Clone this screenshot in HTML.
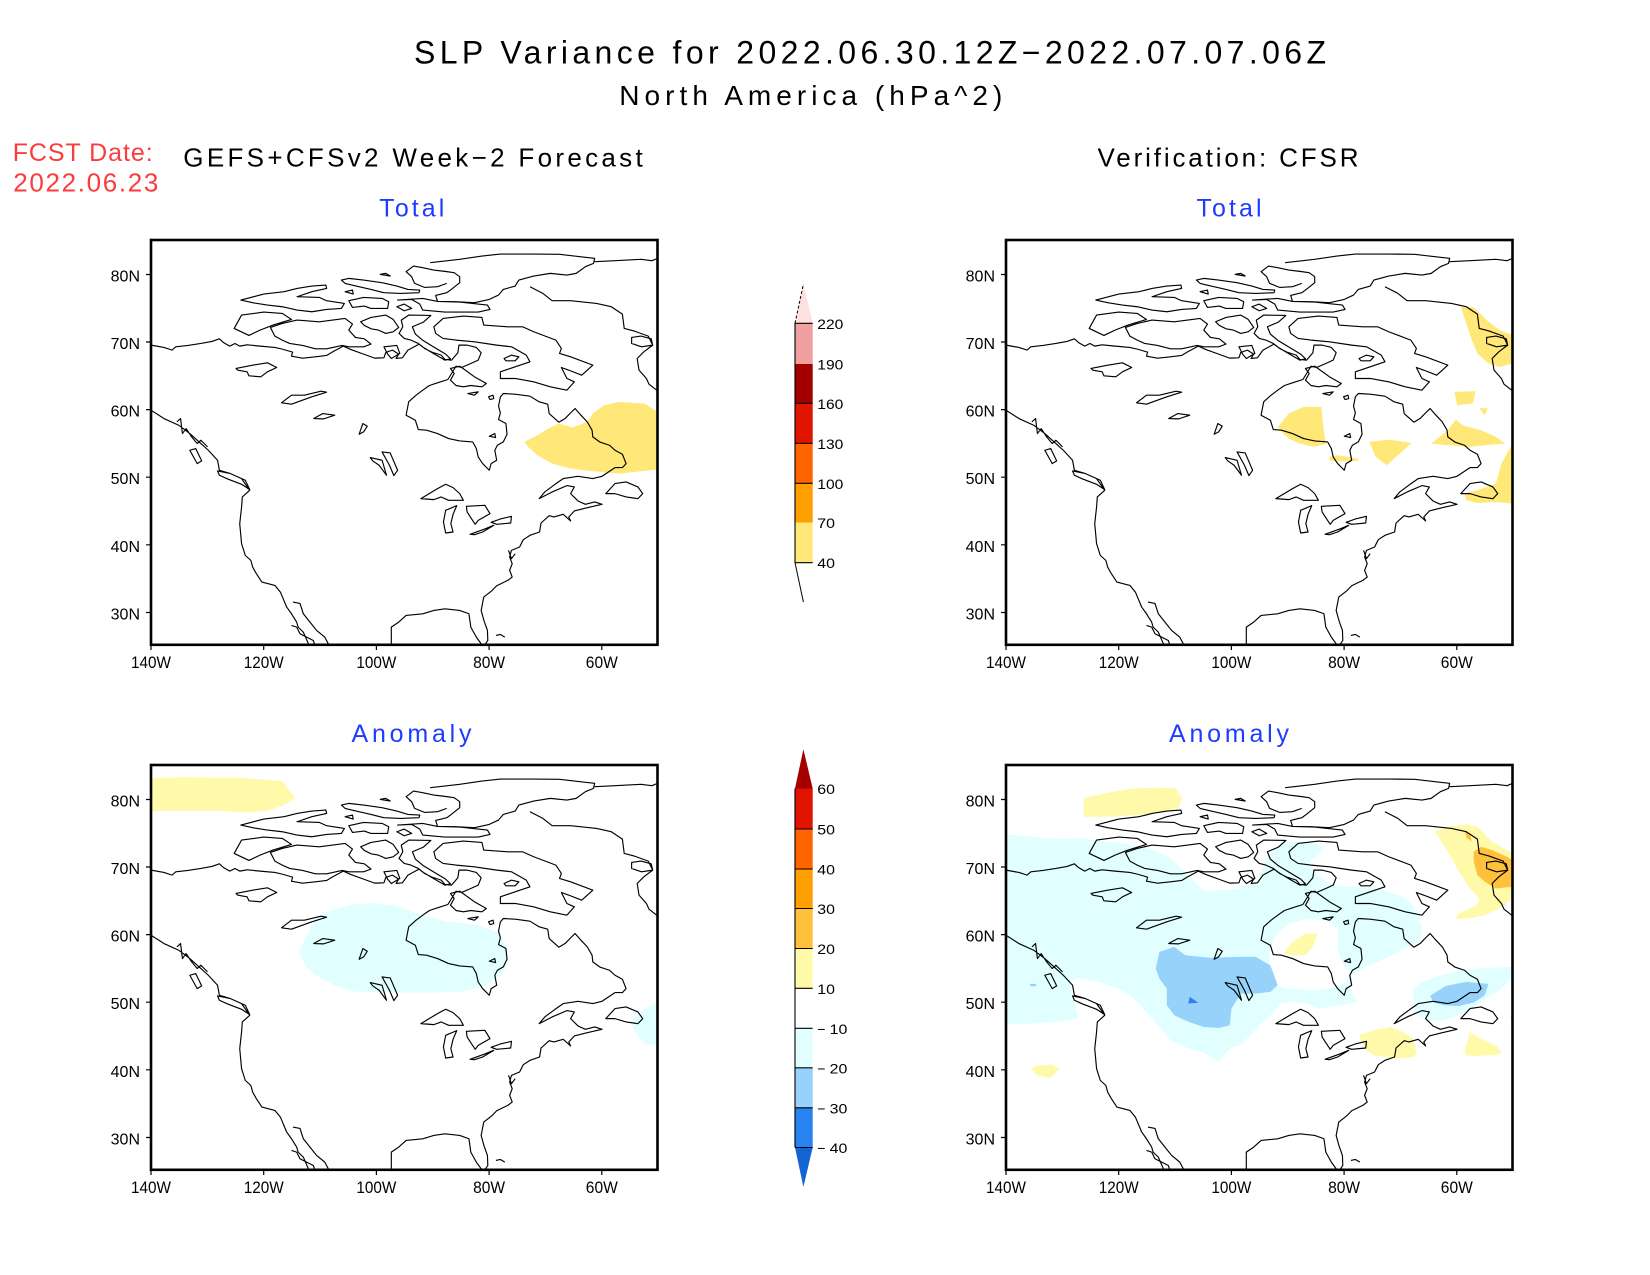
<!DOCTYPE html>
<html><head><meta charset="utf-8"><style>
html,body{margin:0;padding:0;background:#fff;}
svg{display:block;}
text{font-family:"Liberation Sans",sans-serif;}
</style></head><body>
<svg width="1650" height="1275" viewBox="0 0 1650 1275" xmlns="http://www.w3.org/2000/svg">
<rect width="1650" height="1275" fill="#fff"/>
<defs>
<clipPath id="cp"><rect x="165" y="30" width="1370" height="1213"/></clipPath>
</defs>

<!-- Titles -->
<text x="414" y="63.3" font-size="32" textLength="912" lengthAdjust="spacing">SLP Variance for 2022.06.30.12Z−2022.07.07.06Z</text>
<text x="619.3" y="105" font-size="28" textLength="383" lengthAdjust="spacing">North America (hPa^2)</text>
<text x="12.7" y="161" font-size="25" fill="#FA3C3C" textLength="140" lengthAdjust="spacing">FCST Date:</text>
<text x="13.3" y="191.7" font-size="26" fill="#FA3C3C" textLength="145" lengthAdjust="spacing">2022.06.23</text>
<text x="183.3" y="166.7" font-size="26" textLength="459.4" lengthAdjust="spacing">GEFS+CFSv2 Week−2 Forecast</text>
<text x="1097.5" y="166.7" font-size="26" textLength="261" lengthAdjust="spacing">Verification: CFSR</text>
<text x="379.3" y="216.7" font-size="25" fill="#1E3CFF" textLength="65" lengthAdjust="spacing">Total</text>
<text x="1196.5" y="216.7" font-size="25" fill="#1E3CFF" textLength="65" lengthAdjust="spacing">Total</text>
<text x="351.5" y="742" font-size="25" fill="#1E3CFF" textLength="120" lengthAdjust="spacing">Anomaly</text>
<text x="1169" y="742" font-size="25" fill="#1E3CFF" textLength="120" lengthAdjust="spacing">Anomaly</text>

<!-- ============ PANEL TL ============ -->
<g transform="translate(151,240) scale(0.36971,0.33372) translate(-165,-30)">
<g clip-path="url(#cp)">
<path fill="#FFE878" d="M1175,635 L1210,615 L1240,595 L1268,580 L1305,592 L1345,575 L1360,550 L1390,525 L1430,515 L1500,520 L1535,545 L1535,718 L1500,722 L1430,730 L1350,722 L1300,715 L1250,700 L1210,675 L1185,650 Z"/>
<path class="coast" fill="none" stroke="#000" stroke-width="1.15" vector-effect="non-scaling-stroke" stroke-linejoin="round" d="M165,345 L200,352 L222,360 L232,350 L265,346 L300,340 L330,334 L350,326 L362,338 L378,348 L392,340 L405,348 L425,344 L460,348 L500,352 L520,357 L548,366 L545,378 L575,384 L610,380 L640,376 L655,366 L685,348 L705,358 L740,372 L770,384 L795,383 L800,367 L818,360 L835,372 L828,385 L845,383 L860,360 L890,342 L905,355 L925,366 L950,375 L960,388 L978,390 L995,368 L998,345 L1020,345 L1045,352 L1058,368 L1050,390 L1030,400 L1005,412 L990,408 L978,430 L968,448 L940,458 L918,466 L900,480 L882,495 L862,515 L855,555 L880,570 L888,598 L910,600 L940,610 L970,625 L1000,632 L1035,635 L1045,655 L1050,680 L1062,700 L1080,720 L1085,700 L1100,690 L1095,660 L1102,645 L1118,635 L1128,612 L1125,580 L1105,568 L1110,548 L1105,528 L1110,500 L1118,490 L1150,492 L1190,498 L1215,515 L1238,522 L1242,550 L1268,576 L1285,565 L1300,548 L1312,535 L1328,555 L1345,575 L1358,600 L1360,620 L1380,636 L1405,645 L1420,660 L1440,672 L1450,700 L1440,712 L1420,712 L1385,738 L1360,745 L1320,738 L1280,745 L1258,762 L1230,785 L1215,805 L1250,785 L1290,766 L1310,770 L1300,790 L1320,812 L1340,822 L1365,815 L1385,822 L1345,832 L1310,842 L1295,860 L1300,872 L1280,852 L1255,860 L1242,856 L1220,878 L1216,905 L1190,915 L1172,928 L1162,950 L1140,960 L1135,980 L1142,1000 L1135,1020 L1142,1040 L1130,1050 L1100,1066 L1088,1080 L1065,1100 L1058,1140 L1066,1172 L1075,1200 L1076,1230 L1068,1243
M815,1243 L815,1190 L835,1175 L855,1155 L900,1150 L930,1140 L960,1135 L1000,1140 L1025,1150 L1030,1190 L1045,1220 L1060,1243
M165,540 L200,565 L240,585 L270,610 L300,640 L320,660 L345,690 L350,720 L380,730 L410,745 L432,780 L412,800 L410,830 L405,880 L410,940 L420,975 L435,990 L440,1010 L450,1030 L465,1055 L500,1065 L515,1085 L532,1130 L545,1150 L559,1175 L563,1190 L577,1205 L592,1243
M549,1115 L568,1119 L577,1150 L595,1175 L613,1200 L635,1220 L646,1243
M545,1185 L559,1190 L568,1210 L604,1230 L608,1243
M920,98 L1000,88 L1060,78 L1110,72 L1200,72 L1270,73 L1340,82 L1365,85 L1362,100 L1340,110 L1315,130 L1290,135 L1245,130 L1200,138 L1160,150 L1150,168 L1118,178 L1105,195 L1080,208 L1040,218 L990,215 L940,214 L935,196 L965,188 L975,180 L1000,158 L1000,140 L985,128 L960,124 L930,120 L900,113 L875,108 L855,125 L870,140 L878,160 L905,172 L940,170 L965,160
M1365,95 L1420,92 L1490,88 L1520,92 L1535,85
M1190,170 L1225,190 L1250,212 L1300,212 L1370,220 L1410,230 L1440,252 L1445,295 L1470,302 L1510,318 L1522,345 L1498,365 L1480,385 L1485,420 L1505,445 L1512,462 L1535,482
M1465,322 L1490,318 L1518,326 L1522,345 L1492,350 L1465,340 Z
M680,150 L700,145 L740,150 L790,158 L830,168 L860,178 L892,180 L890,188 L840,190 L795,188 L760,178 L720,168 L690,160 Z
M408,210 L470,192 L525,185 L560,175 L600,168 L638,165 L640,175 L600,185 L560,200 L620,202 L640,212 L688,220 L680,235 L640,238 L600,245 L560,240 L520,230 L480,225 L440,218 Z
M700,212 L740,202 L790,205 L808,215 L805,235 L760,235 L742,228 L710,232 Z
M690,185 L710,180 L712,192 Z
M832,210 L870,208 L892,222 L900,240 L960,246 L1050,246 L1082,238 L1075,225 L1000,216 L940,214 L900,205 Z
M830,230 L850,222 L870,235 L850,242 Z
M785,133 L800,130 L812,138 Z
M390,295 L410,255 L470,246 L520,250 L545,268 L495,285 L460,300 L430,316 Z
M488,292 L520,280 L560,270 L620,275 L690,265 L710,282 L700,300 L718,322 L742,326 L760,342 L740,350 L700,350 L682,346 L640,356 L610,356 L575,346 L540,340 L520,330 L500,318 Z
M732,275 L760,262 L800,255 L820,268 L835,292 L820,305 L800,310 L780,300 L760,296 L742,286 Z
M842,270 L862,255 L922,256 L902,276 L872,290 L880,312 L902,332 L932,352 L962,372 L975,386 L960,390 L932,372 L902,352 L888,340 L868,330 L850,325 L836,310 L846,290 Z
M930,290 L955,265 L1010,258 L1060,262 L1065,285 L1130,290 L1170,290 L1200,305 L1260,330 L1275,355 L1270,370 L1300,380 L1360,405 L1330,435 L1295,420 L1275,412 L1290,445 L1310,455 L1290,480 L1245,470 L1200,455 L1150,445 L1110,445 L1110,425 L1150,410 L1190,395 L1180,375 L1140,350 L1100,345 L1040,335 L990,330 L955,325 L935,310 Z
M795,350 L830,346 L838,370 L815,385 L805,372 Z
M975,415 L1000,408 L1040,440 L1072,460 L1060,470 L1030,466 L1010,470 L990,466 L975,450 L985,430 Z
M1120,385 L1140,375 L1160,380 L1150,392 L1125,392 Z
M1022,490 L1050,485 L1040,495 Z M1078,500 L1090,495 L1092,505 L1082,508 Z M1080,618 L1095,610 L1097,622 Z
M395,415 L440,405 L480,398 L505,412 L480,425 L462,440 L430,437 L425,425 L400,420 Z
M518,518 L545,495 L580,495 L625,483 L640,486 L600,500 L570,512 L545,522 Z
M605,565 L630,550 L662,555 L632,566 Z
M728,612 L738,580 L750,588 L740,605 Z
M758,682 L790,690 L802,735 L782,705 L765,692 Z
M790,665 L812,668 L832,720 L822,736 L810,705 Z
M895,805 L940,775 L962,762 L982,772 L1000,790 L1010,810 L970,810 L950,800 L930,808 Z
M962,840 L992,826 L982,852 L976,880 L982,905 L962,908 L956,875 L960,852 Z
M1018,828 L1068,825 L1082,850 L1050,870 L1042,882 L1030,862 L1020,845 Z
M1028,912 L1070,895 L1092,885 L1062,905 L1040,913 Z
M1085,876 L1110,866 L1140,858 L1138,878 L1100,882 Z
M1395,790 L1420,760 L1450,755 L1482,770 L1495,790 L1482,805 L1450,800 L1420,790 Z
M345,722 L380,730 L420,750 L432,778 L410,762 L372,746 L350,735 Z
M270,660 L286,655 L302,692 L290,700 Z
M235,575 L245,565 L250,610 L260,595 L275,620 L290,640 L300,630 L318,650
M1098,1215 L1110,1212 L1122,1220
M1132,960 L1140,985 L1150,970"/>
</g>
</g>

<!-- ============ PANEL TR ============ -->
<g transform="translate(1006,240) scale(0.36971,0.33372) translate(-165,-30)">
<g clip-path="url(#cp)" fill="#FFE878">
<path d="M1395,230 L1430,232 L1470,275 L1500,300 L1535,315 L1535,400 L1500,410 L1470,400 L1440,370 L1425,330 L1410,280 Z"/>
<path d="M1378,485 L1435,483 L1428,520 L1385,525 Z"/>
<path d="M1445,533 L1468,535 L1460,555 Z"/>
<path d="M1315,640 L1360,600 L1382,568 L1400,585 L1450,600 L1490,620 L1515,640 L1460,645 L1420,650 L1360,645 Z"/>
<path d="M900,590 L930,550 L970,530 L1018,530 L1022,580 L1030,640 L1000,650 L960,640 L930,625 L910,605 Z"/>
<path d="M1148,635 L1200,628 L1262,638 L1230,670 L1195,705 L1165,680 Z"/>
<path d="M1040,680 L1060,675 L1090,680 L1118,685 L1118,692 L1060,693 L1040,690 Z"/>
<path d="M1405,790 L1440,780 L1490,760 L1505,700 L1530,650 L1535,650 L1535,820 L1490,815 L1440,818 L1410,810 Z"/>
</g>
</g>

<!-- ============ PANEL BL ============ -->
<g transform="translate(151,765) scale(0.36971,0.33372) translate(-165,-30)">
<g clip-path="url(#cp)">
<path fill="#FFFAAA" d="M165,70 L240,67 L400,68 L520,78 L555,130 L520,152 L480,168 L420,172 L360,168 L280,168 L165,168 Z"/>
<path fill="#E1FFFF" d="M565,590 L600,510 L640,470 L700,450 L760,443 L820,450 L900,480 L960,498 L1050,510 L1110,535 L1128,580 L1125,640 L1100,670 L1060,695 L1000,710 L920,712 L820,712 L720,710 L660,690 L610,660 L585,635 Z"/>
<path fill="#E1FFFF" d="M1460,800 L1490,770 L1535,740 L1535,870 L1500,865 L1480,840 Z"/>
</g>
</g>

<!-- ============ PANEL BR ============ -->
<g transform="translate(1006,765) scale(0.36971,0.33372) translate(-165,-30)">
<g clip-path="url(#cp)">
<path fill="#E1FFFF" d="M165,238 L220,243 L300,252 L370,250 L420,258 L470,262 L530,275 L575,290 L610,310 L640,340 L665,370 L690,395 L705,410 L740,405 L790,400 L830,388 L850,370 L860,340 L870,310 L890,280 L920,262 L960,258 L1000,265 L1025,278 L1010,300 L985,318 L995,345 L1030,380 L1070,395 L1110,395 L1160,398 L1200,410 L1240,425 L1265,450 L1280,480 L1290,520 L1285,555 L1265,570 L1240,580 L1200,605 L1160,625 L1130,640 L1100,660 L1095,700 L1115,740 L1060,752 L1010,760 L980,745 L940,738 L905,745 L890,770 L860,800 L830,835 L800,868 L770,880 L740,920 L700,892 L660,880 L610,855 L585,820 L560,790 L530,750 L500,720 L470,700 L420,682 L360,668 L335,680 L345,720 L360,790 L300,800 L230,805 L165,808 Z"/>
<path fill="#FFFFFF" d="M878,590 L895,540 L930,505 L980,492 L1030,495 L1062,520 L1062,580 L1075,625 L1095,650 L1085,680 L1050,700 L990,705 L930,700 L890,690 L878,650 Z"/>
<path fill="#FFFAAA" d="M915,595 L935,565 L975,535 L1008,535 L995,575 L975,600 L945,600 Z"/>
<path fill="#96D2FA" d="M570,640 L580,590 L620,575 L650,600 L720,608 L790,605 L840,605 L880,630 L900,690 L880,710 L840,715 L800,715 L775,760 L770,810 L740,818 L700,815 L660,800 L620,780 L600,750 L600,700 L580,670 Z"/>
<path fill="#2882F0" d="M658,745 L662,725 L685,742 Z"/>
<rect x="230" y="686" width="16" height="7" fill="#96D2FA"/>
<path fill="#E1FFFF" d="M1265,705 L1290,680 L1340,660 L1400,645 L1460,638 L1535,635 L1535,668 L1505,700 L1470,725 L1440,748 L1400,775 L1350,795 L1300,798 L1272,775 Z"/>
<path fill="#96D2FA" d="M1312,722 L1355,692 L1410,680 L1470,686 L1460,720 L1430,742 L1390,752 L1350,750 L1322,742 Z"/>
<path fill="#FFFAAA" d="M375,130 L430,115 L510,100 L580,98 L625,100 L642,130 L630,162 L570,175 L520,180 L450,185 L375,185 Z"/>
<path fill="#FFFAAA" d="M1325,230 L1360,215 L1410,208 L1440,215 L1480,260 L1535,295 L1535,430 L1500,460 L1460,480 L1420,490 L1378,490 L1390,475 L1440,450 L1445,430 L1420,400 L1390,350 L1360,290 Z"/>
<path fill="#FFC03C" d="M1430,290 L1450,275 L1480,285 L1520,305 L1535,315 L1535,395 L1490,400 L1460,380 L1440,360 L1430,320 Z"/>
<path fill="#FFC03C" d="M1405,230 L1420,235 L1425,258 L1412,250 Z"/>
<path fill="#FFFAAA" d="M1120,840 L1160,825 L1205,815 L1240,830 L1265,850 L1275,890 L1270,905 L1220,910 L1160,900 L1135,880 Z"/>
<path fill="#FFFAAA" d="M1405,890 L1420,830 L1450,850 L1490,870 L1505,890 L1500,898 L1440,902 L1410,900 Z"/>
<path fill="#FFFAAA" d="M232,940 L250,930 L290,928 L310,940 L285,968 L250,960 Z"/>
<path fill="#FFFAAA" d="M1528,785 L1535,778 L1535,805 Z"/>
</g>
</g>

<!-- Frames, ticks, labels -->
<g fill="none" stroke="#000" stroke-width="2.6" id="frames">
<rect x="151" y="240" width="506.5" height="404.8"/>
<rect x="1006" y="240" width="506.5" height="404.8"/>
<rect x="151" y="765" width="506.5" height="404.8"/>
<rect x="1006" y="765" width="506.5" height="404.8"/>
</g>
<g stroke="#000" stroke-width="1.2">
<path d="M146,274.5H151M146,342H151M146,409.6H151M146,477.2H151M146,544.8H151M146,612.5H151"/>
<path d="M1001,274.5H1006M1001,342H1006M1001,409.6H1006M1001,477.2H1006M1001,544.8H1006M1001,612.5H1006"/>
<path d="M146,799.5H151M146,867H151M146,934.6H151M146,1002.2H151M146,1069.8H151M146,1137.5H151"/>
<path d="M1001,799.5H1006M1001,867H1006M1001,934.6H1006M1001,1002.2H1006M1001,1069.8H1006M1001,1137.5H1006"/>
<path d="M151,645V650M263.7,645V650M376.4,645V650M489.1,645V650M601.8,645V650"/>
<path d="M1006,645V650M1118.7,645V650M1231.4,645V650M1344.1,645V650M1456.8,645V650"/>
<path d="M151,1170V1175M263.7,1170V1175M376.4,1170V1175M489.1,1170V1175M601.8,1170V1175"/>
<path d="M1006,1170V1175M1118.7,1170V1175M1231.4,1170V1175M1344.1,1170V1175M1456.8,1170V1175"/>
</g>
<g font-size="16" text-anchor="end">
<text x="140" y="281.5">80N</text><text x="140" y="349">70N</text><text x="140" y="416.6">60N</text><text x="140" y="484.2">50N</text><text x="140" y="551.8">40N</text><text x="140" y="619.5">30N</text>
<text x="995" y="281.5">80N</text><text x="995" y="349">70N</text><text x="995" y="416.6">60N</text><text x="995" y="484.2">50N</text><text x="995" y="551.8">40N</text><text x="995" y="619.5">30N</text>
<text x="140" y="806.5">80N</text><text x="140" y="874">70N</text><text x="140" y="941.6">60N</text><text x="140" y="1009.2">50N</text><text x="140" y="1076.8">40N</text><text x="140" y="1144.5">30N</text>
<text x="995" y="806.5">80N</text><text x="995" y="874">70N</text><text x="995" y="941.6">60N</text><text x="995" y="1009.2">50N</text><text x="995" y="1076.8">40N</text><text x="995" y="1144.5">30N</text>
</g>
<g font-size="17">
<text x="131" y="668" textLength="40" lengthAdjust="spacingAndGlyphs">140W</text><text x="243.7" y="668" textLength="40" lengthAdjust="spacingAndGlyphs">120W</text><text x="356.4" y="668" textLength="40" lengthAdjust="spacingAndGlyphs">100W</text><text x="473.1" y="668" textLength="32" lengthAdjust="spacingAndGlyphs">80W</text><text x="585.8" y="668" textLength="32" lengthAdjust="spacingAndGlyphs">60W</text>
<text x="986" y="668" textLength="40" lengthAdjust="spacingAndGlyphs">140W</text><text x="1098.7" y="668" textLength="40" lengthAdjust="spacingAndGlyphs">120W</text><text x="1211.4" y="668" textLength="40" lengthAdjust="spacingAndGlyphs">100W</text><text x="1328.1" y="668" textLength="32" lengthAdjust="spacingAndGlyphs">80W</text><text x="1440.8" y="668" textLength="32" lengthAdjust="spacingAndGlyphs">60W</text>
<text x="131" y="1193" textLength="40" lengthAdjust="spacingAndGlyphs">140W</text><text x="243.7" y="1193" textLength="40" lengthAdjust="spacingAndGlyphs">120W</text><text x="356.4" y="1193" textLength="40" lengthAdjust="spacingAndGlyphs">100W</text><text x="473.1" y="1193" textLength="32" lengthAdjust="spacingAndGlyphs">80W</text><text x="585.8" y="1193" textLength="32" lengthAdjust="spacingAndGlyphs">60W</text>
<text x="986" y="1193" textLength="40" lengthAdjust="spacingAndGlyphs">140W</text><text x="1098.7" y="1193" textLength="40" lengthAdjust="spacingAndGlyphs">120W</text><text x="1211.4" y="1193" textLength="40" lengthAdjust="spacingAndGlyphs">100W</text><text x="1328.1" y="1193" textLength="32" lengthAdjust="spacingAndGlyphs">80W</text><text x="1440.8" y="1193" textLength="32" lengthAdjust="spacingAndGlyphs">60W</text>
</g>

<!-- Colorbar 1 (Total) -->
<polygon points="795,323.3 812.7,323.3 803.4,284" fill="#FFE0E0"/>
<line x1="795" y1="323.3" x2="803.4" y2="284" stroke="#000" stroke-width="1" stroke-dasharray="3,2"/>
<rect x="795" y="323.3" width="17.7" height="40.7" fill="#F0A0A0"/>
<rect x="795" y="364" width="17.7" height="39.3" fill="#A50000"/>
<rect x="795" y="403.3" width="17.7" height="40" fill="#E11400"/>
<rect x="795" y="443.3" width="17.7" height="40" fill="#FF6400"/>
<rect x="795" y="483.3" width="17.7" height="39.4" fill="#FFA000"/>
<rect x="795" y="522.7" width="17.7" height="40" fill="#FFE878"/>
<line x1="795" y1="562.7" x2="803.4" y2="602" stroke="#000" stroke-width="1"/>
<g stroke="#000" stroke-width="1.1">
<line x1="795" y1="323" x2="795" y2="563"/>
<path d="M795,323.3H812.7M795,403.3H812.7M795,443.3H812.7M795,483.3H812.7M795,562.7H812.7"/>
</g>
<g font-size="14">
<text x="817.3" y="328.8" textLength="26" lengthAdjust="spacingAndGlyphs">220</text>
<text x="817.3" y="369.5" textLength="26" lengthAdjust="spacingAndGlyphs">190</text>
<text x="817.3" y="408.8" textLength="26" lengthAdjust="spacingAndGlyphs">160</text>
<text x="817.3" y="448.8" textLength="26" lengthAdjust="spacingAndGlyphs">130</text>
<text x="817.3" y="488.8" textLength="26" lengthAdjust="spacingAndGlyphs">100</text>
<text x="817.3" y="528.2" textLength="17.7" lengthAdjust="spacingAndGlyphs">70</text>
<text x="817.3" y="568.2" textLength="17.7" lengthAdjust="spacingAndGlyphs">40</text>
</g>

<!-- Colorbar 2 (Anomaly) -->
<polygon points="795,788.5 812.7,788.5 803.4,749.3" fill="#A50000"/>
<rect x="795" y="788.5" width="17.7" height="40.5" fill="#E11400"/>
<rect x="795" y="829" width="17.7" height="40" fill="#FF6400"/>
<rect x="795" y="869" width="17.7" height="39.5" fill="#FFA000"/>
<rect x="795" y="908.5" width="17.7" height="40" fill="#FFC03C"/>
<rect x="795" y="948.5" width="17.7" height="39.8" fill="#FFFAAA"/>
<rect x="795" y="1028.3" width="17.7" height="39.5" fill="#E1FFFF"/>
<rect x="795" y="1067.8" width="17.7" height="40" fill="#96D2FA"/>
<rect x="795" y="1107.8" width="17.7" height="39.7" fill="#2882F0"/>
<polygon points="795,1147.5 812.7,1147.5 803.4,1187" fill="#1464D2"/>
<g stroke="#000" stroke-width="1.1">
<line x1="795" y1="788.5" x2="795" y2="1147.5"/>
<path d="M795,829H812.7M795,869H812.7M795,908.5H812.7M795,948.5H812.7M795,988.3H812.7M795,1028.3H812.7M795,1067.8H812.7M795,1107.8H812.7M795,1147.5H812.7"/>
</g>
<g font-size="14">
<text x="817.3" y="794" textLength="17.7" lengthAdjust="spacingAndGlyphs">60</text>
<text x="817.3" y="834.5" textLength="17.7" lengthAdjust="spacingAndGlyphs">50</text>
<text x="817.3" y="874.5" textLength="17.7" lengthAdjust="spacingAndGlyphs">40</text>
<text x="817.3" y="914" textLength="17.7" lengthAdjust="spacingAndGlyphs">30</text>
<text x="817.3" y="954" textLength="17.7" lengthAdjust="spacingAndGlyphs">20</text>
<text x="817.3" y="993.8" textLength="17.7" lengthAdjust="spacingAndGlyphs">10</text>
<text x="817.3" y="1033.8">−</text><text x="829.6" y="1033.8" textLength="17.7" lengthAdjust="spacingAndGlyphs">10</text>
<text x="817.3" y="1073.3">−</text><text x="829.6" y="1073.3" textLength="17.7" lengthAdjust="spacingAndGlyphs">20</text>
<text x="817.3" y="1113.3">−</text><text x="829.6" y="1113.3" textLength="17.7" lengthAdjust="spacingAndGlyphs">30</text>
<text x="817.3" y="1153">−</text><text x="829.6" y="1153" textLength="17.7" lengthAdjust="spacingAndGlyphs">40</text>
</g>
</svg>
<script>
(function(){
  var src=document.querySelector('path.coast');
  var d=src.getAttribute('d');
  var svg=document.querySelector('svg');
  var frames=document.getElementById('frames');
  var pos=[[1006,240],[151,765],[1006,765]];
  pos.forEach(function(p){
    var g=document.createElementNS('http://www.w3.org/2000/svg','g');
    g.setAttribute('transform','translate('+p[0]+','+p[1]+') scale(0.36971,0.33372) translate(-165,-30)');
    var gc=document.createElementNS('http://www.w3.org/2000/svg','g');
    gc.setAttribute('clip-path','url(#cp)');
    var pth=document.createElementNS('http://www.w3.org/2000/svg','path');
    pth.setAttribute('d',d);
    pth.setAttribute('fill','none');
    pth.setAttribute('stroke','#000');
    pth.setAttribute('stroke-width','1.15');
    pth.setAttribute('stroke-linejoin','round');
    pth.setAttribute('vector-effect','non-scaling-stroke');
    gc.appendChild(pth);g.appendChild(gc);
    svg.insertBefore(g,frames);
  });
})();
</script>
</body></html>
